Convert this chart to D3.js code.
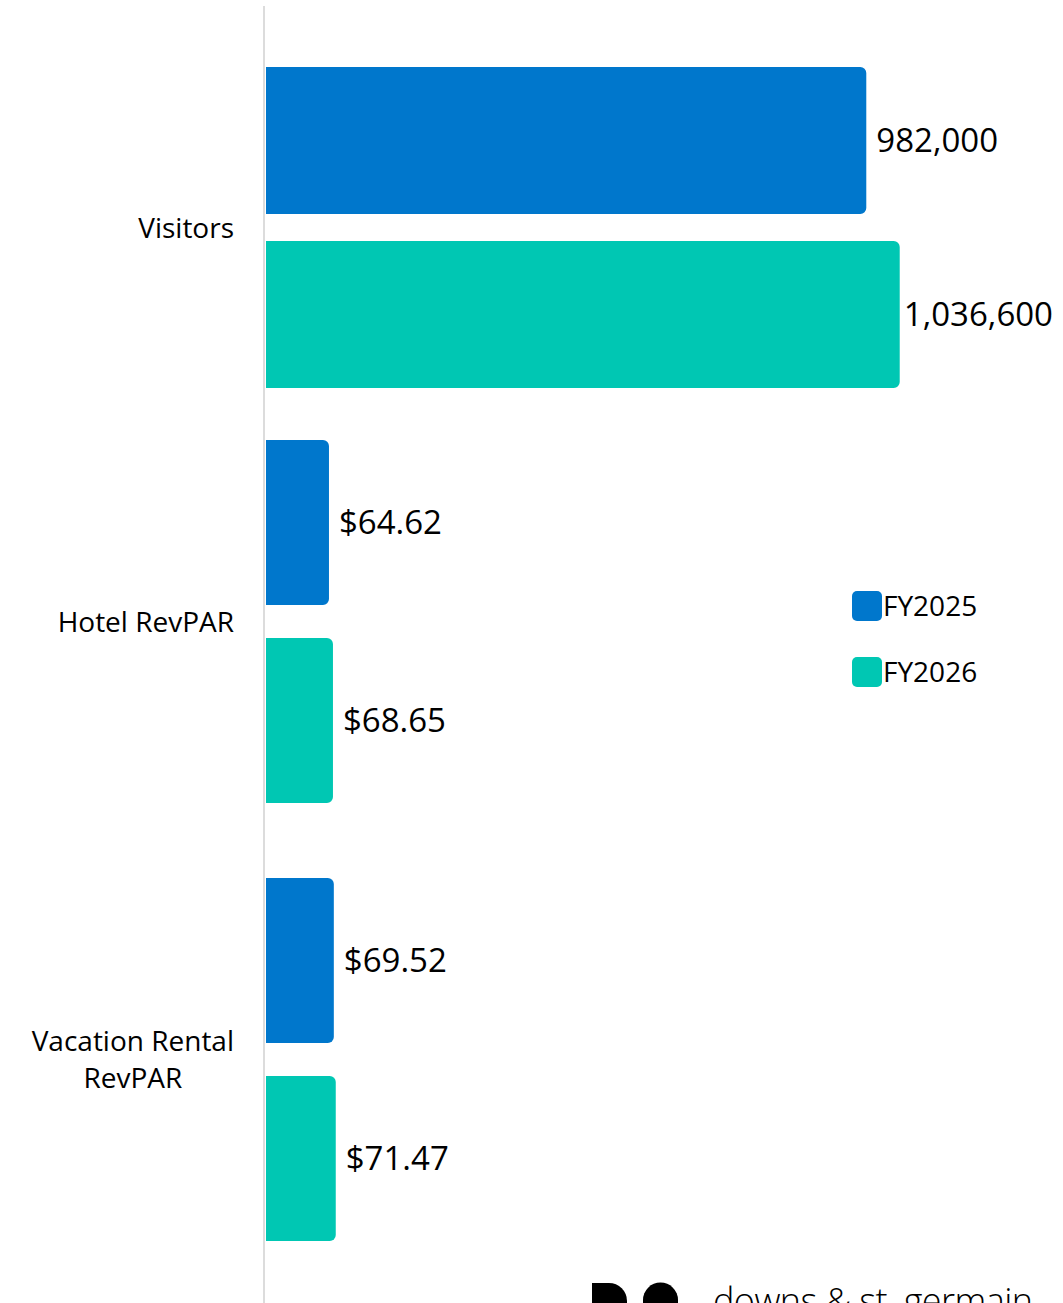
<!DOCTYPE html>
<html>
<head>
<meta charset="utf-8">
<script src="https://cdn.jsdelivr.net/npm/d3@7"></script>
<style>
  body { margin: 0; background: #fff; }
  svg text { font-family: "Open Sans", "Noto Sans", sans-serif; fill: #000; }
</style>
</head>
<body>
<svg class="chart" width="1063" height="1303"></svg>
<script>
// chart values
const series = ["FY2025", "FY2026"];
const visitorCategory = ["Visitors"];
const visitorValues = [982000, 1036600];
const revparCategories = ["Hotel RevPAR", "Vacation Rental RevPAR"];
const revparValues = [[64.62, 68.65], [69.52, 71.47]];
const colors = ["#0077cc", "#00c7b3"];

const svg = d3.select("svg.chart");
const W = +svg.attr("width");
const H = +svg.attr("height");
const left = 265;

const color = d3.scaleOrdinal().domain(series).range(colors);

// visitors and revpar are on their own scales
const xVis = d3.scaleLinear().domain([0, 1300000]).range([left, 1061]);
const xRev = d3.scaleLinear().domain([0, 100]).range([left, 364]);

const yVis = d3.scaleBand().domain(visitorCategory).range([67, 388]);
const yVisInner = d3.scaleBand().domain(series).range([0, yVis.bandwidth()]).paddingInner(0.155);

const yRev = d3.scaleBand().domain(revparCategories).range([402.5, 1278.5])
    .paddingInner(0.171).paddingOuter(0.0856);
const yRevInner = d3.scaleBand().domain(series).range([0, yRev.bandwidth()]).paddingInner(0.1667);

// bar with rounded right corners
function barPath(x0, x1, y0, h, r) {
    r = Math.min(r, (x1 - x0) / 2, h / 2);
    return `M${x0},${y0}H${x1 - r}A${r},${r} 0 0 1 ${x1},${y0 + r}` +
        `V${y0 + h - r}A${r},${r} 0 0 1 ${x1 - r},${y0 + h}H${x0}Z`;
}

// axis line
svg.append("line")
    .attr("x1", left - 1).attr("x2", left - 1)
    .attr("y1", 6).attr("y2", H)
    .attr("stroke", "#dcdcdc")
    .attr("stroke-width", 2);

const rows = [];
visitorValues.forEach((v, i) => rows.push({
    cat: visitorCategory[0], s: series[i], v: v,
    x: xVis, y: yVis(visitorCategory[0]) + yVisInner(series[i]), h: yVisInner.bandwidth(),
    label: d3.format(",")(v)
}));
revparCategories.forEach((c, ci) => revparValues[ci].forEach((v, i) => rows.push({
    cat: c, s: series[i], v: v,
    x: xRev, y: yRev(c) + yRevInner(series[i]), h: yRevInner.bandwidth(),
    label: "$" + d3.format(".2f")(v)
})));

svg.selectAll(".bar")
    .data(rows)
    .enter().append("path")
    .attr("class", "bar")
    .attr("fill", d => color(d.s))
    .attr("d", d => barPath(left + 1, d.x(d.v), d.y, d.h, 6));

svg.selectAll(".value")
    .data(rows)
    .enter().append("text")
    .attr("class", "value")
    .attr("x", d => d.x(d.v) + 10)
    .attr("y", d => d.y + d.h / 2)
    .attr("dy", "0.36em")
    .style("font-size", "33px")
    .text(d => d.label)
    .each(function () {
        const t = d3.select(this);
        const w = this.getComputedTextLength();
        const x = +t.attr("x");
        if (x + w > W - 10) t.attr("x", W - 10 - w);
    });

// category labels
const catLabels = [
    { lines: ["Visitors"], y: yVis("Visitors") + yVis.bandwidth() / 2 },
    { lines: ["Hotel RevPAR"], y: yRev("Hotel RevPAR") + yRev.bandwidth() / 2 },
    { lines: ["Vacation Rental", "RevPAR"], y: yRev("Vacation Rental RevPAR") + yRev.bandwidth() / 2 }
];
const lineH = 37;
catLabels.forEach(c => {
    const t = svg.append("text")
        .attr("text-anchor", "middle")
        .style("font-size", "28px");
    const maxW = 0;
    c.lines.forEach((l, i) => {
        t.append("tspan")
            .attr("x", 0)
            .attr("y", c.y + (i - (c.lines.length - 1) / 2) * lineH)
            .attr("dy", "0.36em")
            .text(l);
    });
    const bw = t.node().getBBox().width;
    t.attr("transform", `translate(${234 - bw / 2},0)`);
});

// legend
const legend = svg.append("g").attr("transform", "translate(852,591)");
series.forEach((s, i) => {
    const g = legend.append("g").attr("transform", `translate(0,${i * 66})`);
    g.append("rect")
        .attr("width", 30).attr("height", 30)
        .attr("rx", 5)
        .attr("fill", color(s));
    g.append("text")
        .attr("x", 31).attr("y", 15)
        .attr("dy", "0.36em")
        .style("font-size", "28px")
        .text(s);
});

// logo, cut off at the bottom
const logo = svg.append("g");
logo.append("path")
    .attr("d", "M592,1283H609A18,18 0 0 1 627,1301V1310H592Z")
    .attr("fill", "#000");
logo.append("path")
    .attr("d", "M643,1300A17,17 0 0 1 678,1300V1310H643Z")
    .attr("fill", "#000");
logo.append("text")
    .attr("x", 713).attr("y", 1314)
    .style("font-size", "36px")
    .style("font-weight", 300)
    .attr("textLength", 320)
    .text("downs & st. germain");
</script>
</body>
</html>
